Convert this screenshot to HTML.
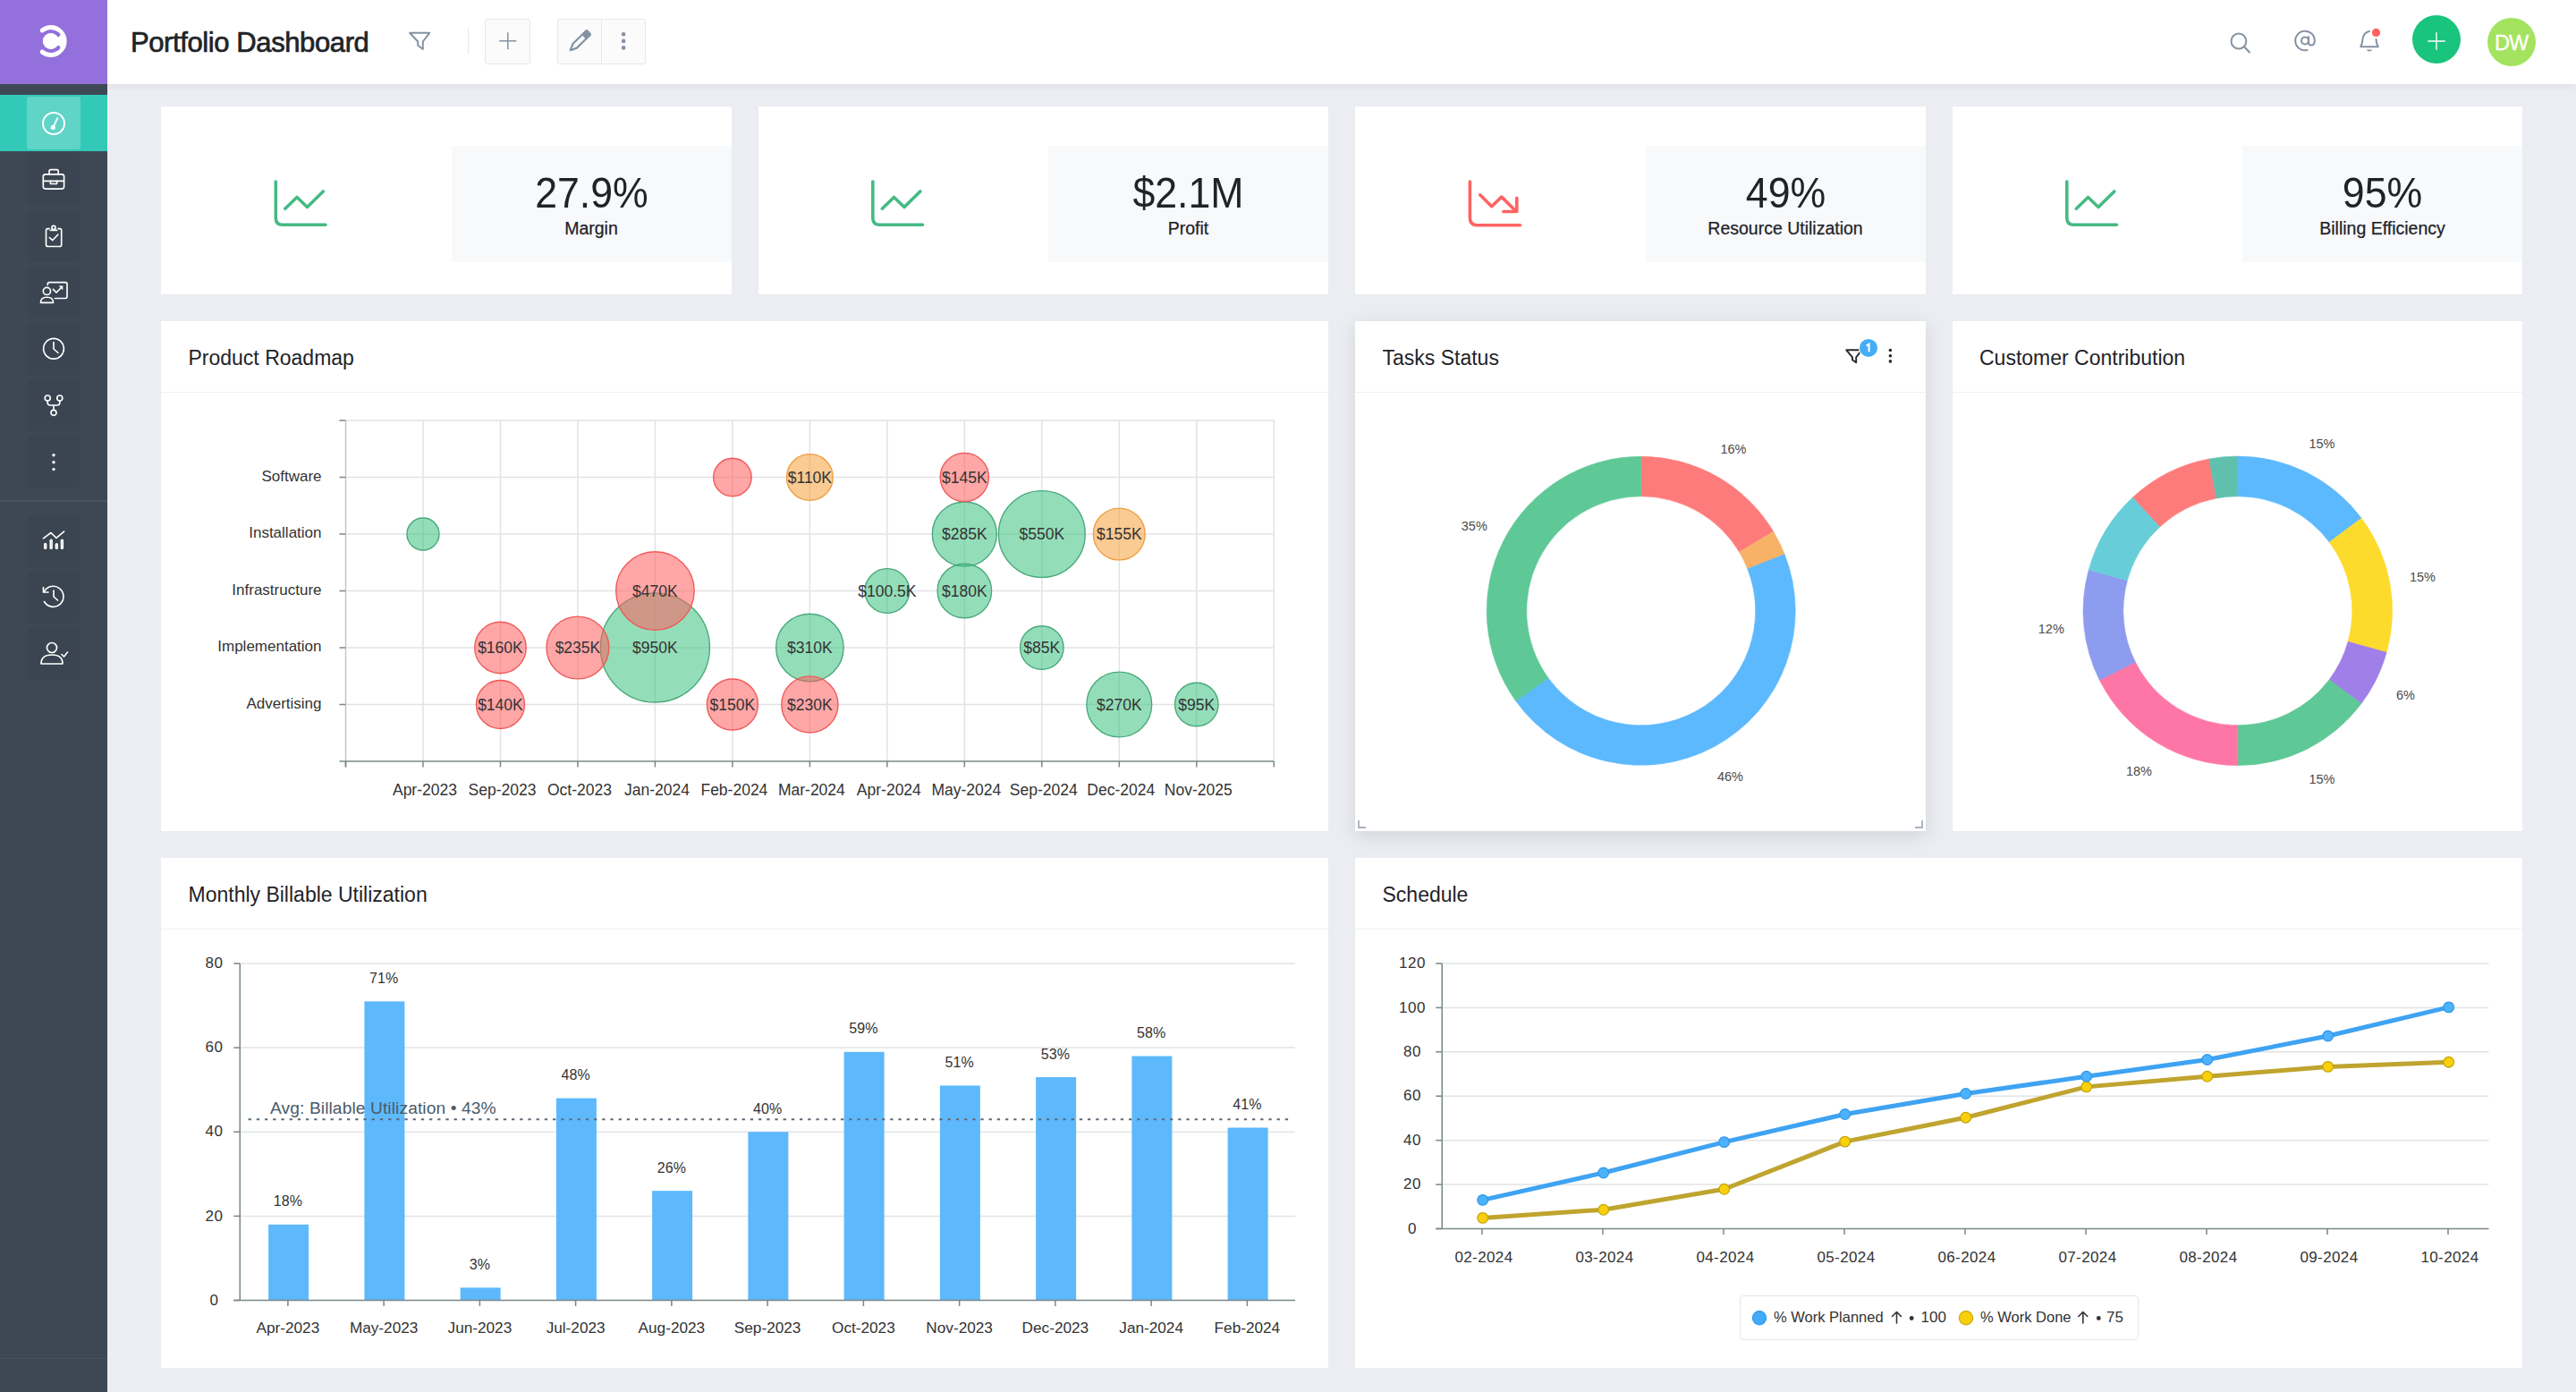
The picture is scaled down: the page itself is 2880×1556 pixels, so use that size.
<!DOCTYPE html>
<html><head><meta charset="utf-8"><title>Portfolio Dashboard</title>
<style>
html,body{margin:0;padding:0;width:2880px;height:1556px;overflow:hidden;background:#ebedf2;font-family:"Liberation Sans", sans-serif;}
.abs{position:absolute;}
.card{position:absolute;background:#fff;}
.ctitle{position:absolute;font-size:23px;color:#1f2328;white-space:nowrap;line-height:1;}
.chead{position:absolute;left:0;right:0;height:1px;background:#eef0f3;}
.sbox{position:absolute;background:#f8f9fb;}
.sval{position:absolute;left:0;right:0;text-align:center;font-size:47.5px;color:#1f2328;line-height:1;transform:scaleX(0.94);}
.slab{position:absolute;left:0;right:0;text-align:center;font-size:19.5px;color:#1f2328;line-height:1;-webkit-text-stroke:0.25px #1f2328;}
svg text{font-family:"Liberation Sans", sans-serif;}
@media (max-width:2000px){html{zoom:0.5;}}
</style></head><body>

<div class="abs" style="left:120px;top:0;width:2760px;height:94px;background:#fff;box-shadow:0 2px 7px rgba(30,40,60,0.07);z-index:2"></div>
<div class="abs" style="left:0;top:0;width:120px;height:1556px;background:#3d4854;z-index:3"></div>
<div class="abs" style="left:0;top:0;width:120px;height:94px;background:#9370dc;z-index:4"></div>
<div class="abs" style="left:0;top:106px;width:120px;height:63px;background:#33c9b8;z-index:4"></div>
<div class="abs" style="left:30px;top:108px;width:60px;height:59px;background:#60d4c7;border-radius:3px;z-index:4"></div>
<div class="abs" style="left:0;top:559px;width:120px;height:2px;background:#4a5562;z-index:4"></div>
<div class="abs" style="left:0;top:1518px;width:120px;height:1px;background:#48525e;z-index:4"></div>
<div class="abs" style="left:31px;top:171px;width:58px;height:58px;background:rgba(0,0,0,0.035);z-index:4"></div>
<div class="abs" style="left:31px;top:235px;width:58px;height:58px;background:rgba(0,0,0,0.035);z-index:4"></div>
<div class="abs" style="left:31px;top:298px;width:58px;height:58px;background:rgba(0,0,0,0.035);z-index:4"></div>
<div class="abs" style="left:31px;top:361px;width:58px;height:58px;background:rgba(0,0,0,0.035);z-index:4"></div>
<div class="abs" style="left:31px;top:424px;width:58px;height:58px;background:rgba(0,0,0,0.035);z-index:4"></div>
<div class="abs" style="left:31px;top:487px;width:58px;height:58px;background:rgba(0,0,0,0.035);z-index:4"></div>
<div class="abs" style="left:31px;top:576px;width:58px;height:58px;background:rgba(0,0,0,0.035);z-index:4"></div>
<div class="abs" style="left:31px;top:639px;width:58px;height:58px;background:rgba(0,0,0,0.035);z-index:4"></div>
<div class="abs" style="left:31px;top:702px;width:58px;height:58px;background:rgba(0,0,0,0.035);z-index:4"></div>
<div class="abs" style="left:523px;top:31px;width:1px;height:30px;background:#e4e7eb;z-index:5"></div>
<div class="abs" style="left:542px;top:21px;width:49px;height:49px;border:1px solid #e5e8ec;border-radius:3px;background:#fbfbfc;z-index:5"></div>
<div class="abs" style="left:623px;top:21px;width:97px;height:48.5px;border:1px solid #e5e8ec;border-radius:3px;background:#fbfbfc;z-index:5"></div>
<div class="abs" style="left:672px;top:22px;width:1px;height:48.5px;background:#e5e8ec;z-index:5"></div>
<div class="abs" style="left:146px;top:32.3px;font-size:31px;color:#1f2328;line-height:1;letter-spacing:-0.4px;-webkit-text-stroke:0.7px #1f2328;z-index:5;white-space:nowrap">Portfolio Dashboard</div>
<div class="card" style="left:180px;top:119px;width:637.5px;height:210px">
<div class="sbox" style="left:324.5px;top:44px;width:313.0px;height:130px">
<div class="sval" style="top:28.5px">27.9%</div>
<div class="slab" style="top:83px">Margin</div>
</div></div>
<div class="card" style="left:847.5px;top:119px;width:637.5px;height:210px">
<div class="sbox" style="left:324.5px;top:44px;width:313.0px;height:130px">
<div class="sval" style="top:28.5px">$2.1M</div>
<div class="slab" style="top:83px">Profit</div>
</div></div>
<div class="card" style="left:1515px;top:119px;width:637.5px;height:210px">
<div class="sbox" style="left:324.5px;top:44px;width:313.0px;height:130px">
<div class="sval" style="top:28.5px">49%</div>
<div class="slab" style="top:83px">Resource Utilization</div>
</div></div>
<div class="card" style="left:2182.5px;top:119px;width:637.5px;height:210px">
<div class="sbox" style="left:324.5px;top:44px;width:313.0px;height:130px">
<div class="sval" style="top:28.5px">95%</div>
<div class="slab" style="top:83px">Billing Efficiency</div>
</div></div>
<div class="card" style="left:180px;top:359px;width:1305px;height:570px;">
<div class="ctitle" style="left:30.5px;top:30px">Product Roadmap</div>
<div class="chead" style="top:79px"></div>
</div>
<div class="card" style="left:1515px;top:359px;width:637.5px;height:570px;box-shadow:0 5px 18px rgba(40,50,70,0.13);z-index:1">
<div class="ctitle" style="left:30.5px;top:30px">Tasks Status</div>
<div class="chead" style="top:79px"></div>
</div>
<div class="card" style="left:2182.5px;top:359px;width:637.5px;height:570px;">
<div class="ctitle" style="left:30.5px;top:30px">Customer Contribution</div>
<div class="chead" style="top:79px"></div>
</div>
<div class="card" style="left:180px;top:959px;width:1305px;height:570px;">
<div class="ctitle" style="left:30.5px;top:30px">Monthly Billable Utilization</div>
<div class="chead" style="top:79px"></div>
</div>
<div class="card" style="left:1515px;top:959px;width:1305px;height:570px;">
<div class="ctitle" style="left:30.5px;top:30px">Schedule</div>
<div class="chead" style="top:79px"></div>
</div>
<div class="abs" style="left:1944.5px;top:1447.75px;width:444px;height:48.5px;border:1.5px solid #e2e6ea;border-radius:4px;z-index:5"></div>
<svg class="abs" style="left:0;top:0;z-index:10" width="2880" height="1556" viewBox="0 0 2880 1556">
<g>
</g>
<defs><mask id="lgm" maskUnits="userSpaceOnUse" x="0" y="0" width="120" height="94">
<rect x="0" y="0" width="120" height="94" fill="#000"/>
<circle cx="56.8" cy="46" r="12.4" fill="#fff"/>
<path d="M61.11,34.16 A12.6,12.6 0 0 1 61.11,57.84" fill="none" stroke="#fff" stroke-width="1.6"/>
<path d="M47.35,33.90 A15.35,15.35 0 1 1 47.35,58.10" fill="none" stroke="#fff" stroke-width="5" stroke-linecap="round"/>
<path d="M65.14,53.25 A11.05,11.05 0 1 1 65.14,38.75" fill="none" stroke="#000" stroke-width="4.5" stroke-linecap="round"/>
<circle cx="56.8" cy="46" r="9" fill="#fff"/>
<path d="M47.35,33.90 A15.35,15.35 0 0 1 64.47,32.71" fill="none" stroke="#fff" stroke-width="5" stroke-linecap="round"/>
<path d="M64.47,59.29 A15.35,15.35 0 0 1 47.35,58.10" fill="none" stroke="#fff" stroke-width="5" stroke-linecap="round"/>
</mask></defs>
<rect x="0" y="0" width="120" height="94" fill="#ffffff" mask="url(#lgm)"/>
<g fill="none" stroke="#ffffff" stroke-width="1.9" stroke-linecap="round" stroke-linejoin="round">
<circle cx="60" cy="138" r="12"/>
<path d="M59.2,142.6 L64.3,132.2"/>
</g>
<circle cx="59.3" cy="142.4" r="2.6" fill="#ffffff"/>
<g fill="none" stroke="#ffffff" stroke-width="1.65" stroke-linecap="round" stroke-linejoin="round">
<rect x="48.3" y="194.8" width="23.3" height="16.3" rx="2.5"/>
<path d="M55,194.8 V191.4 Q55,189.6 56.8,189.6 H63.4 Q65.2,189.6 65.2,191.4 V194.8"/>
<path d="M48.3,202.3 H71.6"/>
<path d="M56.4,202.3 V205.5 H63.6 V202.3"/>
<path d="M55.2,255.6 H53.6 Q51.5,255.6 51.5,257.7 V273.4 Q51.5,275.5 53.6,275.5 H66.6 Q68.7,275.5 68.7,273.4 V257.7 Q68.7,255.6 66.6,255.6 H65"/>
<circle cx="60" cy="254.4" r="2"/>
<path d="M56.3,257.4 H63.7"/>
<path d="M55.4,265.5 L58.7,268.7 L64.8,262.2"/>
<path d="M53.3,318.6 V317.5 Q53.3,315.6 55.3,315.6 H73.1 Q75,315.6 75,317.5 V331.6 Q75,333.5 73.1,333.5 H61.4"/>
<path d="M59.4,323.4 L63,327 L69,321"/>
</g>
<path d="M65.6,319.6 L70.4,319.4 L70.2,324.2 Z" fill="#ffffff"/>
<g fill="none" stroke="#ffffff" stroke-width="1.65" stroke-linecap="round" stroke-linejoin="round">
<circle cx="52.4" cy="325.4" r="4.1"/>
<path d="M45.4,338.3 Q45.4,332.2 52.5,332.2 Q59.6,332.2 59.6,338.3 Z"/>
<circle cx="60" cy="389.8" r="11.4"/>
<path d="M60,382.5 V390 L65,394.5"/>
<circle cx="53.2" cy="445" r="3"/><circle cx="66.8" cy="445" r="3"/><circle cx="60" cy="461.3" r="3"/>
<path d="M53.2,448 V450 Q53.2,453 56,453 H64 Q66.8,453 66.8,450 V448 M60,453 V458.3"/>
</g>
<circle cx="60" cy="508.8" r="1.7" fill="#ffffff"/>
<circle cx="60" cy="516.8" r="1.7" fill="#ffffff"/>
<circle cx="60" cy="524.6" r="1.7" fill="#ffffff"/>
<g fill="none" stroke="#ffffff" stroke-width="1.65" stroke-linecap="round" stroke-linejoin="round">
<path d="M48.4,601.8 L56.9,595.5 L63,601.4 L71.6,594.1" stroke-width="1.6"/>
<rect x="49.8" y="607.6" width="1.8" height="5.7" rx="0.9" stroke-width="1.6"/>
<rect x="56.3" y="603.3" width="1.8" height="10" rx="0.9" stroke-width="1.6"/>
<rect x="62.4" y="607.9" width="1.8" height="5.4" rx="0.9" stroke-width="1.6"/>
<rect x="68.5" y="603.3" width="1.8" height="10" rx="0.9" stroke-width="1.6"/>
<path d="M49.3,661.5 A11.5,11.5 0 1 1 49.5,672.5"/>
<path d="M48.5,656.5 V662 H54"/>
<path d="M60,660 V667 L64.5,671"/>
<circle cx="58" cy="724" r="5.5"/>
<path d="M46,742 Q46,732 58,732 Q70,732 70,742 Z"/>
<path d="M69,731.5 L71.5,734 L75.5,729"/>
</g>
<g fill="none" stroke="#8592a3" stroke-width="2" stroke-linecap="round" stroke-linejoin="round">
<path d="M458.2,36.8 H480.2 L472.8,46.5 V55 L467.2,50.8 V46.5 Z"/>
</g>
<path d="M558.3,45.8 H577.2 M567.75,36.3 V55.2" stroke="#8592a3" stroke-width="1.5" fill="none"/>
<g transform="translate(637.3,56.6) rotate(-44.5)"><path d="M0.6,0 L7.5,-3.2 L23,-3.2 L23,3.2 L7.5,3.2 Z" fill="none" stroke="#8592a3" stroke-width="2.2" stroke-linejoin="round"/><rect x="21.8" y="-4.3" width="8.4" height="8.6" rx="2" fill="#8592a3"/></g>
<circle cx="697.1" cy="38.3" r="2.3" fill="#8592a3"/>
<circle cx="697.1" cy="45.9" r="2.3" fill="#8592a3"/>
<circle cx="697.1" cy="53.4" r="2.3" fill="#8592a3"/>
<g fill="none" stroke="#8592a3" stroke-width="2" stroke-linecap="round" stroke-linejoin="round">
<circle cx="2502.9" cy="46" r="8.4"/><path d="M2509,52.2 L2515,58.5"/>
<circle cx="2577" cy="45.5" r="4"/>
<path d="M2581,41 V47.5 Q2581,50.5 2584,50.5 Q2587.8,50.5 2587.8,45.5 A10.8,10.8 0 1 0 2579.5,56"/>
<path d="M2649,35 Q2642,36.5 2641.5,44 Q2641,49 2639.3,52.2 H2658.8 Q2656.8,49 2656.5,44"/>
</g>
<path d="M2645.5,55.5 H2652.5 Q2649,59.5 2645.5,55.5 Z" fill="#8592a3"/>
<circle cx="2656.5" cy="36.4" r="6.5" fill="#fff"/><circle cx="2656.5" cy="36.4" r="4.6" fill="#ff6161"/>
<circle cx="2724" cy="44" r="27" fill="#19c47c"/>
<path d="M2714.3,46 H2733.7 M2724,36.3 V55.7" stroke="#fff" stroke-width="1.4" fill="none"/>
<circle cx="2808" cy="47" r="27" fill="#a4e35f"/>
<text x="2807.5" y="55.5" text-anchor="middle" font-size="23.5" fill="#fff" stroke="#fff" stroke-width="0.35" letter-spacing="-1">DW</text>
<g transform="translate(306,201)" fill="none" stroke="#45ba84" stroke-width="3.6" stroke-linecap="round" stroke-linejoin="round">
<path d="M2.3,2 V42.5 Q2.3,50.3 10,50.3 H58"/>
<path d="M12.8,32.3 L26,19.5 L37.5,30.5 L55.3,13"/>
</g>
<g transform="translate(973.5,201)" fill="none" stroke="#45ba84" stroke-width="3.6" stroke-linecap="round" stroke-linejoin="round">
<path d="M2.3,2 V42.5 Q2.3,50.3 10,50.3 H58"/>
<path d="M12.8,32.3 L26,19.5 L37.5,30.5 L55.3,13"/>
</g>
<g transform="translate(1641,201)" fill="none" stroke="#ff6363" stroke-width="3.6" stroke-linecap="round" stroke-linejoin="round">
<path d="M2.4,2 V42.5 Q2.4,50.75 10.5,50.75 H58.4"/>
<path d="M13.7,16.8 L26.7,29.7 L37.8,19.1 L54,35.2"/>
<path d="M54.8,20.4 V35.5 H39.8"/>
</g>
<g transform="translate(2308.5,201)" fill="none" stroke="#45ba84" stroke-width="3.6" stroke-linecap="round" stroke-linejoin="round">
<path d="M2.3,2 V42.5 Q2.3,50.3 10,50.3 H58"/>
<path d="M12.8,32.3 L26,19.5 L37.5,30.5 L55.3,13"/>
</g>
<path d="M386.5,470 V851" stroke="#bdc3c6" stroke-width="1.4" fill="none"/>
<g stroke="#e2e3e6" stroke-width="1.5" fill="none">
<path d="M386.5,470 H1424.25"/>
<path d="M386.5,533.5 H1424.25"/>
<path d="M386.5,597 H1424.25"/>
<path d="M386.5,660.5 H1424.25"/>
<path d="M386.5,724 H1424.25"/>
<path d="M386.5,787.5 H1424.25"/>
<path d="M472.98,470 V851"/>
<path d="M559.46,470 V851"/>
<path d="M645.94,470 V851"/>
<path d="M732.42,470 V851"/>
<path d="M818.90,470 V851"/>
<path d="M905.38,470 V851"/>
<path d="M991.85,470 V851"/>
<path d="M1078.33,470 V851"/>
<path d="M1164.81,470 V851"/>
<path d="M1251.29,470 V851"/>
<path d="M1337.77,470 V851"/>
<path d="M1424.25,470 V851"/>
</g>
<g stroke="#798788" stroke-width="1.5" fill="none">
<path d="M379.5,851 H1424.25"/><path d="M386.5,851 V857.5"/>
<path d="M379.5,470 H386.5"/>
<path d="M379.5,533.5 H386.5"/>
<path d="M379.5,597 H386.5"/>
<path d="M379.5,660.5 H386.5"/>
<path d="M379.5,724 H386.5"/>
<path d="M379.5,787.5 H386.5"/>
<path d="M386.50,851 V857.5"/>
<path d="M472.98,851 V857.5"/>
<path d="M559.46,851 V857.5"/>
<path d="M645.94,851 V857.5"/>
<path d="M732.42,851 V857.5"/>
<path d="M818.90,851 V857.5"/>
<path d="M905.38,851 V857.5"/>
<path d="M991.85,851 V857.5"/>
<path d="M1078.33,851 V857.5"/>
<path d="M1164.81,851 V857.5"/>
<path d="M1251.29,851 V857.5"/>
<path d="M1337.77,851 V857.5"/>
<path d="M1424.25,851 V857.5"/>
</g>
<text x="359.5" y="537.7" text-anchor="end" font-size="17" fill="#333333">Software</text>
<text x="359.5" y="601.2" text-anchor="end" font-size="17" fill="#333333">Installation</text>
<text x="359.5" y="664.7" text-anchor="end" font-size="17" fill="#333333">Infrastructure</text>
<text x="359.5" y="728.2" text-anchor="end" font-size="17" fill="#333333">Implementation</text>
<text x="359.5" y="791.7" text-anchor="end" font-size="17" fill="#333333">Advertising</text>
<text x="474.98" y="888.75" text-anchor="middle" font-size="17.5" fill="#333333">Apr-2023</text>
<text x="561.46" y="888.75" text-anchor="middle" font-size="17.5" fill="#333333">Sep-2023</text>
<text x="647.94" y="888.75" text-anchor="middle" font-size="17.5" fill="#333333">Oct-2023</text>
<text x="734.42" y="888.75" text-anchor="middle" font-size="17.5" fill="#333333">Jan-2024</text>
<text x="820.90" y="888.75" text-anchor="middle" font-size="17.5" fill="#333333">Feb-2024</text>
<text x="907.38" y="888.75" text-anchor="middle" font-size="17.5" fill="#333333">Mar-2024</text>
<text x="993.85" y="888.75" text-anchor="middle" font-size="17.5" fill="#333333">Apr-2024</text>
<text x="1080.33" y="888.75" text-anchor="middle" font-size="17.5" fill="#333333">May-2024</text>
<text x="1166.81" y="888.75" text-anchor="middle" font-size="17.5" fill="#333333">Sep-2024</text>
<text x="1253.29" y="888.75" text-anchor="middle" font-size="17.5" fill="#333333">Dec-2024</text>
<text x="1339.77" y="888.75" text-anchor="middle" font-size="17.5" fill="#333333">Nov-2025</text>
<circle cx="1164.81" cy="724" r="24.25" fill="rgba(58,194,128,0.55)" stroke="#4aa97c" stroke-width="1.4"/>
<circle cx="732.42" cy="724" r="61" fill="rgba(58,194,128,0.55)" stroke="#4aa97c" stroke-width="1.4"/>
<circle cx="472.98" cy="597" r="18" fill="rgba(58,194,128,0.55)" stroke="#4aa97c" stroke-width="1.4"/>
<circle cx="905.38" cy="724" r="37.75" fill="rgba(58,194,128,0.55)" stroke="#4aa97c" stroke-width="1.4"/>
<circle cx="1078.33" cy="597" r="36" fill="rgba(58,194,128,0.55)" stroke="#4aa97c" stroke-width="1.4"/>
<circle cx="1164.81" cy="597" r="48.4" fill="rgba(58,194,128,0.55)" stroke="#4aa97c" stroke-width="1.4"/>
<circle cx="991.85" cy="660.5" r="24.9" fill="rgba(58,194,128,0.55)" stroke="#4aa97c" stroke-width="1.4"/>
<circle cx="1078.33" cy="660.5" r="30.25" fill="rgba(58,194,128,0.55)" stroke="#4aa97c" stroke-width="1.4"/>
<circle cx="1251.29" cy="787.5" r="36.4" fill="rgba(58,194,128,0.55)" stroke="#4aa97c" stroke-width="1.4"/>
<circle cx="1337.77" cy="787.5" r="24.25" fill="rgba(58,194,128,0.55)" stroke="#4aa97c" stroke-width="1.4"/>
<circle cx="818.90" cy="533.5" r="21.25" fill="rgba(255,96,96,0.56)" stroke="#f05a5a" stroke-width="1.4"/>
<circle cx="1078.33" cy="533.5" r="27.1" fill="rgba(255,96,96,0.56)" stroke="#f05a5a" stroke-width="1.4"/>
<circle cx="732.42" cy="660.5" r="43.75" fill="rgba(255,96,96,0.56)" stroke="#f05a5a" stroke-width="1.4"/>
<circle cx="559.46" cy="724" r="28.75" fill="rgba(255,96,96,0.56)" stroke="#f05a5a" stroke-width="1.4"/>
<circle cx="645.94" cy="724" r="34.9" fill="rgba(255,96,96,0.56)" stroke="#f05a5a" stroke-width="1.4"/>
<circle cx="559.46" cy="787.5" r="27" fill="rgba(255,96,96,0.56)" stroke="#f05a5a" stroke-width="1.4"/>
<circle cx="818.90" cy="787.5" r="28.5" fill="rgba(255,96,96,0.56)" stroke="#f05a5a" stroke-width="1.4"/>
<circle cx="905.38" cy="787.5" r="31.6" fill="rgba(255,96,96,0.56)" stroke="#f05a5a" stroke-width="1.4"/>
<circle cx="905.38" cy="533.5" r="25.9" fill="rgba(245,160,58,0.55)" stroke="#eea042" stroke-width="1.4"/>
<circle cx="1251.29" cy="597" r="28.9" fill="rgba(245,160,58,0.55)" stroke="#eea042" stroke-width="1.4"/>
<text x="1164.81" y="730.3" text-anchor="middle" font-size="17.5" fill="#333333">$85K</text>
<text x="732.42" y="730.3" text-anchor="middle" font-size="17.5" fill="#333333">$950K</text>
<text x="905.38" y="730.3" text-anchor="middle" font-size="17.5" fill="#333333">$310K</text>
<text x="1078.33" y="603.3" text-anchor="middle" font-size="17.5" fill="#333333">$285K</text>
<text x="1164.81" y="603.3" text-anchor="middle" font-size="17.5" fill="#333333">$550K</text>
<text x="991.85" y="666.8" text-anchor="middle" font-size="17.5" fill="#333333">$100.5K</text>
<text x="1078.33" y="666.8" text-anchor="middle" font-size="17.5" fill="#333333">$180K</text>
<text x="1251.29" y="793.8" text-anchor="middle" font-size="17.5" fill="#333333">$270K</text>
<text x="1337.77" y="793.8" text-anchor="middle" font-size="17.5" fill="#333333">$95K</text>
<text x="1078.33" y="539.8" text-anchor="middle" font-size="17.5" fill="#333333">$145K</text>
<text x="732.42" y="666.8" text-anchor="middle" font-size="17.5" fill="#333333">$470K</text>
<text x="559.46" y="730.3" text-anchor="middle" font-size="17.5" fill="#333333">$160K</text>
<text x="645.94" y="730.3" text-anchor="middle" font-size="17.5" fill="#333333">$235K</text>
<text x="559.46" y="793.8" text-anchor="middle" font-size="17.5" fill="#333333">$140K</text>
<text x="818.90" y="793.8" text-anchor="middle" font-size="17.5" fill="#333333">$150K</text>
<text x="905.38" y="793.8" text-anchor="middle" font-size="17.5" fill="#333333">$230K</text>
<text x="905.38" y="539.8" text-anchor="middle" font-size="17.5" fill="#333333">$110K</text>
<text x="1251.29" y="603.3" text-anchor="middle" font-size="17.5" fill="#333333">$155K</text>
<path d="M1834.70,510.30 A172.5,172.5 0 0 1 1982.72,594.21 L1944.53,617.07 A128,128 0 0 0 1834.70,554.80 Z" fill="#fd7b7a" stroke="#fd7b7a" stroke-width="0.6"/>
<path d="M1982.72,594.21 A172.5,172.5 0 0 1 1995.20,619.58 L1953.79,635.89 A128,128 0 0 0 1944.53,617.07 Z" fill="#f7b267" stroke="#f7b267" stroke-width="0.6"/>
<path d="M1995.20,619.58 A172.5,172.5 0 0 1 1694.79,783.71 L1730.88,757.67 A128,128 0 0 0 1953.79,635.89 Z" fill="#5db9fd" stroke="#5db9fd" stroke-width="0.6"/>
<path d="M1694.79,783.71 A172.5,172.5 0 0 1 1834.70,510.30 L1834.70,554.80 A128,128 0 0 0 1730.88,757.67 Z" fill="#5ec896" stroke="#5ec896" stroke-width="0.6"/>
<text x="1938" y="507.3" text-anchor="middle" font-size="14.5" fill="#4a4a4a">16%</text>
<text x="1648.3" y="593" text-anchor="middle" font-size="14.5" fill="#4a4a4a">35%</text>
<text x="1934.4" y="872.7" text-anchor="middle" font-size="14.5" fill="#4a4a4a">46%</text>
<path d="M2064.3,391.3 H2081.5 L2075.2,399.3 V405.3 L2071,402.3 V399.3 Z" fill="none" stroke="#25292e" stroke-width="1.9" stroke-linejoin="round"/>
<circle cx="2089" cy="388.9" r="11" fill="#fff"/><circle cx="2089" cy="388.9" r="10" fill="#45adf6"/>
<path d="M2086.6,386.6 L2089.6,384.6 V393.2" fill="none" stroke="#fff" stroke-width="2" stroke-linejoin="miter"/>
<circle cx="2113.4" cy="391.5" r="1.8" fill="#25292e"/>
<circle cx="2113.4" cy="397.7" r="1.8" fill="#25292e"/>
<circle cx="2113.4" cy="403.9" r="1.8" fill="#25292e"/>
<path d="M1519,917 V925 H1527" fill="none" stroke="#a9b1ba" stroke-width="1.8"/>
<path d="M2149,917 V925 H2141" fill="none" stroke="#a9b1ba" stroke-width="1.8"/>
<path d="M2501.80,510.00 A172.8,172.8 0 0 1 2640.17,579.29 L2604.29,606.12 A128,128 0 0 0 2501.80,554.80 Z" fill="#5db9fd" stroke="#5db9fd" stroke-width="0.6"/>
<path d="M2640.17,579.29 A172.8,172.8 0 0 1 2668.23,729.27 L2625.08,717.22 A128,128 0 0 0 2604.29,606.12 Z" fill="#fddb2c" stroke="#fddb2c" stroke-width="0.6"/>
<path d="M2668.23,729.27 A172.8,172.8 0 0 1 2639.99,786.55 L2604.16,759.65 A128,128 0 0 0 2625.08,717.22 Z" fill="#a17fe9" stroke="#a17fe9" stroke-width="0.6"/>
<path d="M2639.99,786.55 A172.8,172.8 0 0 1 2501.80,855.60 L2501.80,810.80 A128,128 0 0 0 2604.16,759.65 Z" fill="#5ec896" stroke="#5ec896" stroke-width="0.6"/>
<path d="M2501.80,855.60 A172.8,172.8 0 0 1 2347.29,760.17 L2387.35,740.11 A128,128 0 0 0 2501.80,810.80 Z" fill="#fe76a6" stroke="#fe76a6" stroke-width="0.6"/>
<path d="M2347.29,760.17 A172.8,172.8 0 0 1 2335.20,636.91 L2378.40,648.81 A128,128 0 0 0 2387.35,740.11 Z" fill="#8d9cee" stroke="#8d9cee" stroke-width="0.6"/>
<path d="M2335.20,636.91 A172.8,172.8 0 0 1 2384.61,555.81 L2415.00,588.73 A128,128 0 0 0 2378.40,648.81 Z" fill="#67ced9" stroke="#67ced9" stroke-width="0.6"/>
<path d="M2384.61,555.81 A172.8,172.8 0 0 1 2469.72,513.00 L2478.03,557.03 A128,128 0 0 0 2415.00,588.73 Z" fill="#fd7b7a" stroke="#fd7b7a" stroke-width="0.6"/>
<path d="M2469.72,513.00 A172.8,172.8 0 0 1 2501.80,510.00 L2501.80,554.80 A128,128 0 0 0 2478.03,557.03 Z" fill="#5fc0ae" stroke="#5fc0ae" stroke-width="0.6"/>
<text x="2596" y="500.8" text-anchor="middle" font-size="14.5" fill="#4a4a4a">15%</text>
<text x="2708.4" y="650" text-anchor="middle" font-size="14.5" fill="#4a4a4a">15%</text>
<text x="2689.5" y="782" text-anchor="middle" font-size="14.5" fill="#4a4a4a">6%</text>
<text x="2596" y="876" text-anchor="middle" font-size="14.5" fill="#4a4a4a">15%</text>
<text x="2391.4" y="867" text-anchor="middle" font-size="14.5" fill="#4a4a4a">18%</text>
<text x="2293.3" y="707.8" text-anchor="middle" font-size="14.5" fill="#4a4a4a">12%</text>
<g stroke="#e2e3e6" stroke-width="1.5" fill="none">
<path d="M268.25,1359.38 H1448"/>
<path d="M268.25,1265.25 H1448"/>
<path d="M268.25,1171.12 H1448"/>
<path d="M268.25,1077.00 H1448"/>
</g>
<rect x="300.12" y="1368.79" width="45" height="84.71" fill="#5eb9fc"/>
<text x="321.88" y="1348.29" text-anchor="middle" font-size="16" fill="#333333">18%</text>
<text x="321.88" y="1490" text-anchor="middle" font-size="17.2" fill="#333333">Apr-2023</text>
<rect x="407.38" y="1119.36" width="45" height="334.14" fill="#5eb9fc"/>
<text x="429.12" y="1098.86" text-anchor="middle" font-size="16" fill="#333333">71%</text>
<text x="429.12" y="1490" text-anchor="middle" font-size="17.2" fill="#333333">May-2023</text>
<rect x="514.62" y="1439.38" width="45" height="14.12" fill="#5eb9fc"/>
<text x="536.38" y="1418.88" text-anchor="middle" font-size="16" fill="#333333">3%</text>
<text x="536.38" y="1490" text-anchor="middle" font-size="17.2" fill="#333333">Jun-2023</text>
<rect x="621.88" y="1227.60" width="45" height="225.90" fill="#5eb9fc"/>
<text x="643.62" y="1207.10" text-anchor="middle" font-size="16" fill="#333333">48%</text>
<text x="643.62" y="1490" text-anchor="middle" font-size="17.2" fill="#333333">Jul-2023</text>
<rect x="729.12" y="1331.14" width="45" height="122.36" fill="#5eb9fc"/>
<text x="750.88" y="1310.64" text-anchor="middle" font-size="16" fill="#333333">26%</text>
<text x="750.88" y="1490" text-anchor="middle" font-size="17.2" fill="#333333">Aug-2023</text>
<rect x="836.38" y="1265.25" width="45" height="188.25" fill="#5eb9fc"/>
<text x="858.12" y="1244.75" text-anchor="middle" font-size="16" fill="#333333">40%</text>
<text x="858.12" y="1490" text-anchor="middle" font-size="17.2" fill="#333333">Sep-2023</text>
<rect x="943.62" y="1175.83" width="45" height="277.67" fill="#5eb9fc"/>
<text x="965.38" y="1155.33" text-anchor="middle" font-size="16" fill="#333333">59%</text>
<text x="965.38" y="1490" text-anchor="middle" font-size="17.2" fill="#333333">Oct-2023</text>
<rect x="1050.88" y="1213.48" width="45" height="240.02" fill="#5eb9fc"/>
<text x="1072.62" y="1192.98" text-anchor="middle" font-size="16" fill="#333333">51%</text>
<text x="1072.62" y="1490" text-anchor="middle" font-size="17.2" fill="#333333">Nov-2023</text>
<rect x="1158.12" y="1204.07" width="45" height="249.43" fill="#5eb9fc"/>
<text x="1179.88" y="1183.57" text-anchor="middle" font-size="16" fill="#333333">53%</text>
<text x="1179.88" y="1490" text-anchor="middle" font-size="17.2" fill="#333333">Dec-2023</text>
<rect x="1265.38" y="1180.54" width="45" height="272.96" fill="#5eb9fc"/>
<text x="1287.12" y="1160.04" text-anchor="middle" font-size="16" fill="#333333">58%</text>
<text x="1287.12" y="1490" text-anchor="middle" font-size="17.2" fill="#333333">Jan-2024</text>
<rect x="1372.62" y="1260.54" width="45" height="192.96" fill="#5eb9fc"/>
<text x="1394.38" y="1240.04" text-anchor="middle" font-size="16" fill="#333333">41%</text>
<text x="1394.38" y="1490" text-anchor="middle" font-size="17.2" fill="#333333">Feb-2024</text>
<g stroke="#798788" stroke-width="1.5" fill="none">
<path d="M268.25,1077 V1453.5"/><path d="M261.25,1453.5 H1448"/>
<path d="M261.25,1453.50 H268.25"/>
<path d="M261.25,1359.38 H268.25"/>
<path d="M261.25,1265.25 H268.25"/>
<path d="M261.25,1171.12 H268.25"/>
<path d="M261.25,1077.00 H268.25"/>
<path d="M321.88,1453.5 V1460.0"/>
<path d="M429.12,1453.5 V1460.0"/>
<path d="M536.38,1453.5 V1460.0"/>
<path d="M643.62,1453.5 V1460.0"/>
<path d="M750.88,1453.5 V1460.0"/>
<path d="M858.12,1453.5 V1460.0"/>
<path d="M965.38,1453.5 V1460.0"/>
<path d="M1072.62,1453.5 V1460.0"/>
<path d="M1179.88,1453.5 V1460.0"/>
<path d="M1287.12,1453.5 V1460.0"/>
<path d="M1394.38,1453.5 V1460.0"/>
</g>
<text x="239.5" y="1458.70" text-anchor="middle" font-size="17" letter-spacing="0.6" fill="#333333">0</text>
<text x="239.5" y="1364.58" text-anchor="middle" font-size="17" letter-spacing="0.6" fill="#333333">20</text>
<text x="239.5" y="1270.45" text-anchor="middle" font-size="17" letter-spacing="0.6" fill="#333333">40</text>
<text x="239.5" y="1176.33" text-anchor="middle" font-size="17" letter-spacing="0.6" fill="#333333">60</text>
<text x="239.5" y="1082.20" text-anchor="middle" font-size="17" letter-spacing="0.6" fill="#333333">80</text>
<path d="M277.6,1251.13 H1442" stroke="#5c6875" stroke-width="2" stroke-dasharray="3.3,5.9" fill="none"/>
<text x="302" y="1245" font-size="19.2" letter-spacing="0.1" fill="#4b5a69">Avg: Billable Utilization • 43%</text>
<g stroke="#e2e3e6" stroke-width="1.5" fill="none">
<path d="M1612.25,1324.08 H2782.5"/>
<path d="M1612.25,1274.67 H2782.5"/>
<path d="M1612.25,1225.25 H2782.5"/>
<path d="M1612.25,1175.83 H2782.5"/>
<path d="M1612.25,1126.42 H2782.5"/>
<path d="M1612.25,1077.00 H2782.5"/>
</g>
<g stroke="#798788" stroke-width="1.5" fill="none">
<path d="M1612.25,1077 V1373.5"/><path d="M1605.25,1373.5 H2782.5"/>
<path d="M1605.25,1373.50 H1612.25"/>
<path d="M1605.25,1324.08 H1612.25"/>
<path d="M1605.25,1274.67 H1612.25"/>
<path d="M1605.25,1225.25 H1612.25"/>
<path d="M1605.25,1175.83 H1612.25"/>
<path d="M1605.25,1126.42 H1612.25"/>
<path d="M1605.25,1077.00 H1612.25"/>
<path d="M1657,1373.5 V1380.0"/>
<path d="M1792,1373.5 V1380.0"/>
<path d="M1927,1373.5 V1380.0"/>
<path d="M2062,1373.5 V1380.0"/>
<path d="M2197,1373.5 V1380.0"/>
<path d="M2332,1373.5 V1380.0"/>
<path d="M2467,1373.5 V1380.0"/>
<path d="M2602,1373.5 V1380.0"/>
<path d="M2737,1373.5 V1380.0"/>
</g>
<text x="1579" y="1378.70" text-anchor="middle" font-size="17" letter-spacing="0.6" fill="#333333">0</text>
<text x="1579" y="1329.28" text-anchor="middle" font-size="17" letter-spacing="0.6" fill="#333333">20</text>
<text x="1579" y="1279.87" text-anchor="middle" font-size="17" letter-spacing="0.6" fill="#333333">40</text>
<text x="1579" y="1230.45" text-anchor="middle" font-size="17" letter-spacing="0.6" fill="#333333">60</text>
<text x="1579" y="1181.03" text-anchor="middle" font-size="17" letter-spacing="0.6" fill="#333333">80</text>
<text x="1579" y="1131.62" text-anchor="middle" font-size="17" letter-spacing="0.6" fill="#333333">100</text>
<text x="1579" y="1082.20" text-anchor="middle" font-size="17" letter-spacing="0.6" fill="#333333">120</text>
<text x="1659" y="1410.75" text-anchor="middle" font-size="17" letter-spacing="0.4" fill="#333333">02-2024</text>
<text x="1794" y="1410.75" text-anchor="middle" font-size="17" letter-spacing="0.4" fill="#333333">03-2024</text>
<text x="1929" y="1410.75" text-anchor="middle" font-size="17" letter-spacing="0.4" fill="#333333">04-2024</text>
<text x="2064" y="1410.75" text-anchor="middle" font-size="17" letter-spacing="0.4" fill="#333333">05-2024</text>
<text x="2199" y="1410.75" text-anchor="middle" font-size="17" letter-spacing="0.4" fill="#333333">06-2024</text>
<text x="2334" y="1410.75" text-anchor="middle" font-size="17" letter-spacing="0.4" fill="#333333">07-2024</text>
<text x="2469" y="1410.75" text-anchor="middle" font-size="17" letter-spacing="0.4" fill="#333333">08-2024</text>
<text x="2604" y="1410.75" text-anchor="middle" font-size="17" letter-spacing="0.4" fill="#333333">09-2024</text>
<text x="2739" y="1410.75" text-anchor="middle" font-size="17" letter-spacing="0.4" fill="#333333">10-2024</text>
<polyline points="1657.70,1361.39 1792.70,1352.25 1927.70,1329.27 2062.70,1276.15 2197.70,1249.22 2332.70,1214.87 2467.70,1203.26 2602.70,1192.39 2737.70,1187.20" fill="none" stroke="#bfa42f" stroke-width="5" stroke-linejoin="round"/>
<polyline points="1657.70,1341.38 1792.70,1310.99 1927.70,1276.64 2062.70,1245.51 2197.70,1222.53 2332.70,1203.26 2467.70,1184.48 2602.70,1158.04 2737.70,1125.92" fill="none" stroke="#3fa3f2" stroke-width="5" stroke-linejoin="round"/>
<circle cx="1657.70" cy="1361.39" r="5.8" fill="#f8d10c" stroke="#caa408" stroke-width="1.3"/>
<circle cx="1792.70" cy="1352.25" r="5.8" fill="#f8d10c" stroke="#caa408" stroke-width="1.3"/>
<circle cx="1927.70" cy="1329.27" r="5.8" fill="#f8d10c" stroke="#caa408" stroke-width="1.3"/>
<circle cx="2062.70" cy="1276.15" r="5.8" fill="#f8d10c" stroke="#caa408" stroke-width="1.3"/>
<circle cx="2197.70" cy="1249.22" r="5.8" fill="#f8d10c" stroke="#caa408" stroke-width="1.3"/>
<circle cx="2332.70" cy="1214.87" r="5.8" fill="#f8d10c" stroke="#caa408" stroke-width="1.3"/>
<circle cx="2467.70" cy="1203.26" r="5.8" fill="#f8d10c" stroke="#caa408" stroke-width="1.3"/>
<circle cx="2602.70" cy="1192.39" r="5.8" fill="#f8d10c" stroke="#caa408" stroke-width="1.3"/>
<circle cx="2737.70" cy="1187.20" r="5.8" fill="#f8d10c" stroke="#caa408" stroke-width="1.3"/>
<circle cx="1657.70" cy="1341.38" r="5.8" fill="#4cb2fb" stroke="#3198e8" stroke-width="1.3"/>
<circle cx="1792.70" cy="1310.99" r="5.8" fill="#4cb2fb" stroke="#3198e8" stroke-width="1.3"/>
<circle cx="1927.70" cy="1276.64" r="5.8" fill="#4cb2fb" stroke="#3198e8" stroke-width="1.3"/>
<circle cx="2062.70" cy="1245.51" r="5.8" fill="#4cb2fb" stroke="#3198e8" stroke-width="1.3"/>
<circle cx="2197.70" cy="1222.53" r="5.8" fill="#4cb2fb" stroke="#3198e8" stroke-width="1.3"/>
<circle cx="2332.70" cy="1203.26" r="5.8" fill="#4cb2fb" stroke="#3198e8" stroke-width="1.3"/>
<circle cx="2467.70" cy="1184.48" r="5.8" fill="#4cb2fb" stroke="#3198e8" stroke-width="1.3"/>
<circle cx="2602.70" cy="1158.04" r="5.8" fill="#4cb2fb" stroke="#3198e8" stroke-width="1.3"/>
<circle cx="2737.70" cy="1125.92" r="5.8" fill="#4cb2fb" stroke="#3198e8" stroke-width="1.3"/>
<circle cx="1967" cy="1473.2" r="7.6" fill="#41abf9" stroke="#2f97e8" stroke-width="1.2"/>
<circle cx="2198" cy="1473.2" r="7.6" fill="#f8d10c" stroke="#caa408" stroke-width="1.2"/>
<text x="1983" y="1478.3" font-size="16.5" fill="#333333">% Work Planned</text>
<text x="2147.5" y="1478.3" font-size="17" fill="#333333">100</text>
<text x="2214" y="1478.3" font-size="16.5" fill="#333333">% Work Done</text>
<text x="2355" y="1478.3" font-size="17" fill="#333333">75</text>
<path d="M2120.5,1479 V1466.5 M2115.5,1471.5 L2120.5,1466.5 L2125.5,1471.5" fill="none" stroke="#333333" stroke-width="1.6" stroke-linecap="round" stroke-linejoin="round"/>
<circle cx="2137.2" cy="1473.5" r="2.4" fill="#333333"/>
<path d="M2328.8,1479 V1466.5 M2323.8,1471.5 L2328.8,1466.5 L2333.8,1471.5" fill="none" stroke="#333333" stroke-width="1.6" stroke-linecap="round" stroke-linejoin="round"/>
<circle cx="2346.3" cy="1473.5" r="2.4" fill="#333333"/>
</svg>
</body></html>
